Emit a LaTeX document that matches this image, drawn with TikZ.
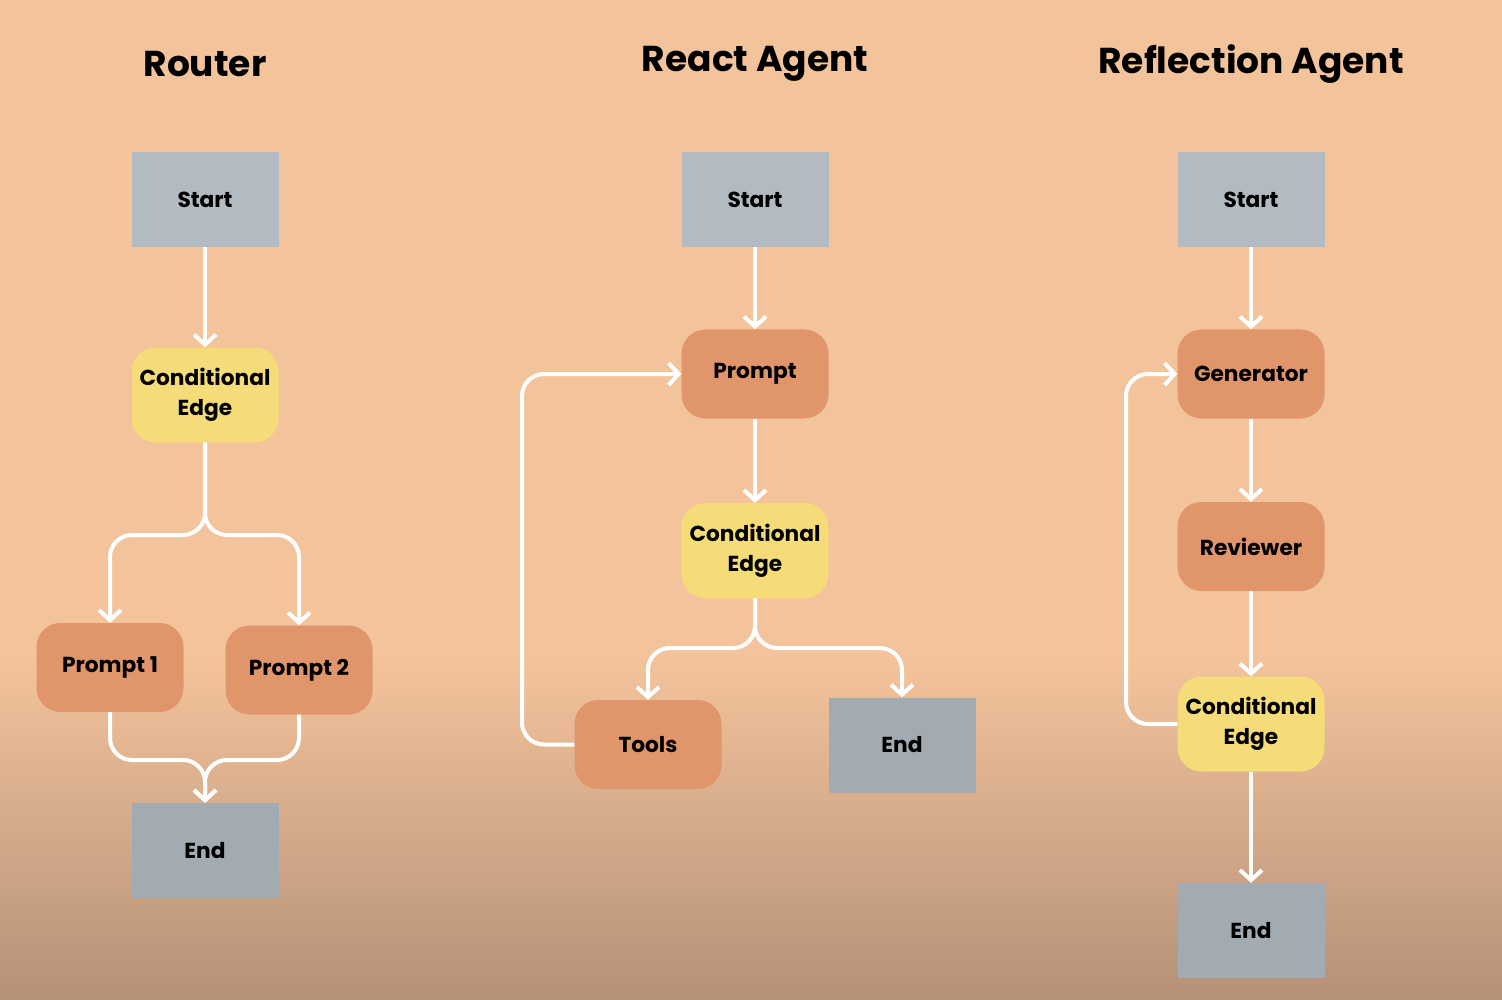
\documentclass[tikz,border=0pt]{standalone}
\usepackage{fontspec}
\setmainfont{Poppins}
\usetikzlibrary{arrows.meta}
\definecolor{bgtop}{HTML}{F3C39B}
\definecolor{bgbot}{HTML}{B59178}
\definecolor{grayA}{HTML}{B2BAC2}
\definecolor{grayB}{HTML}{A2AAB2}
\definecolor{orangeN}{HTML}{E0956A}
\definecolor{yellowN}{HTML}{F5DC78}
\tikzset{
  base/.style={minimum width=147pt, minimum height=95pt, inner sep=0pt, align=center,
    font=\fontsize{21.7}{30}\selectfont\bfseries, text=black},
  startbox/.style={base, fill=grayA},
  endbox/.style={base, fill=grayB},
  procbox/.style={base, fill=orangeN, rounded corners=24pt, minimum height=89pt},
  condbox/.style={base, fill=yellowN, rounded corners=24pt},
  title/.style={font=\fontsize{36}{42}\selectfont\bfseries, text=black},
  conn/.style={draw=white, line width=4pt, rounded corners=22pt,
    -{Straight Barb[length=10pt,width=22pt,line width=4pt]}},
}
\begin{document}
\begin{tikzpicture}[x=1pt,y=-1pt]
\useasboundingbox (0,0) rectangle (1502,1000);
\fill[bgtop] (0,0) rectangle (1502,661);
\shade[top color=bgtop, bottom color=bgbot] (0,660) rectangle (1502,1000);

% Titles
\node[title] (t1) at (205,64) {Router};
\node[title] (t2) at (755,64) {React Agent};
\node[title] (t3) at (1251,64) {Reflection Agent};

% Router
\node[startbox] (rs) at (205,199.5) {Start};
\node[condbox] (rc) at (205,395) {Conditional\\Edge};
\node[procbox] (rp1) at (110,667.5) {Prompt 1};
\node[procbox] (rp2) at (299,670) {Prompt 2};
\node[endbox] (re) at (205,850.5) {End};
\draw[conn] (rs.south) -- (rc.north);
\draw[conn] (rc.south) -- (205,535) -- (110,535) -- (rp1.north);
\draw[conn] (rc.south) -- (205,535) -- (299,535) -- (rp2.north);
\draw[conn] (rp1.south) -- (110,760) -- (205,760) -- (re.north);
\draw[conn] (rp2.south) -- (299,760) -- (205,760) -- (re.north);

% React
\node[startbox] (as) at (755,199.5) {Start};
\node[procbox] (ap) at (755,374) {Prompt};
\node[condbox] (ac) at (755,550.5) {Conditional\\Edge};
\node[procbox] (at) at (648,744.5) {Tools};
\node[endbox] (ae) at (902,745) {End};
\draw[conn] (as.south) -- (ap.north);
\draw[conn] (ap.south) -- (ac.north);
\draw[conn] (ac.south) -- (755,648) -- (648,648) -- (at.north);
\draw[conn] (ac.south) -- (755,648) -- (902,648) -- (ae.north);
\draw[conn] (at.west) -- (522,744.5) -- (522,374) -- (ap.west);

% Reflection
\node[startbox] (fs) at (1251,199.5) {Start};
\node[procbox] (fg) at (1251,374) {Generator};
\node[procbox] (fr) at (1251,546.5) {Reviewer};
\node[condbox] (fc) at (1251,724) {Conditional\\Edge};
\node[endbox] (fe) at (1251,930.5) {End};
\draw[conn] (fs.south) -- (fg.north);
\draw[conn] (fg.south) -- (fr.north);
\draw[conn] (fr.south) -- (fc.north);
\draw[conn] (fc.south) -- (fe.north);
\draw[conn] (fc.west) -- (1126,724) -- (1126,374) -- (fg.west);
\end{tikzpicture}
\end{document}
